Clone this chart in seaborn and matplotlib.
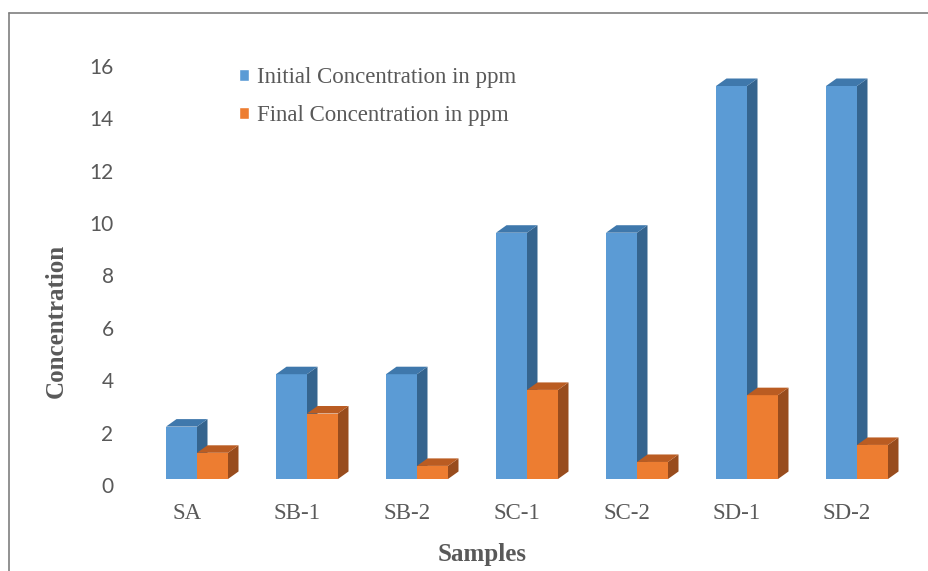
import matplotlib
matplotlib.use("Agg")
import matplotlib.pyplot as plt
from matplotlib.patches import Polygon
from matplotlib.lines import Line2D
from matplotlib.transforms import ScaledTranslation
import seaborn as sns
import pandas as pd

# ---- data ----
samples = ["SA", "SB-1", "SB-2", "SC-1", "SC-2", "SD-1", "SD-2"]
initial = [2.0, 4.0, 4.0, 9.4, 9.4, 15.0, 15.0]
final = [1.0, 2.5, 0.5, 3.4, 0.65, 3.2, 1.3]
series_names = ["Initial Concentration in ppm", "Final Concentration in ppm"]
y_ticks = [0, 2, 4, 6, 8, 10, 12, 14, 16]

front_colors = ["#5B9BD5", "#ED7D31"]
top_colors = ["#3F78AC", "#BA5C22"]
side_colors = ["#35648E", "#984C1D"]

df = pd.DataFrame({
    "Samples": samples * 2,
    "Series": [series_names[0]] * len(samples) + [series_names[1]] * len(samples),
    "Concentration": initial + final,
})

sns.set_theme(style="white")
fig = plt.figure(figsize=(9.29, 5.71), dpi=100)
W, H = 929, 571
ax_left, ax_right = 142, 912
base_y, px_per_unit, ymax = 479, 26.2, 16.5
ax = fig.add_axes([ax_left / W, (H - base_y) / H, (ax_right - ax_left) / W,
                   ymax * px_per_unit / H])

sns.barplot(data=df, x="Samples", y="Concentration", hue="Series",
            order=samples, hue_order=series_names, palette=front_colors,
            saturation=1, width=62 / 110, gap=0, ax=ax, legend=True)

ax.set_xlim(-0.5, 6.5)
ax.set_ylim(0, ymax)

# 3D-like faces derived from each bar
dx = 10.5 / 110
dy = 7.5 / px_per_unit
for i, cont in enumerate(ax.containers):
    for bar in cont:
        bar.set_zorder(2 + i)
        bar.set_edgecolor("none")
        x0 = bar.get_x()
        x1 = x0 + bar.get_width()
        h = bar.get_height()
        side = Polygon([(x1, 0), (x1, h), (x1 + dx, h + dy), (x1 + dx, dy)],
                       closed=True, facecolor=side_colors[i], edgecolor="none",
                       zorder=2.5 + i, clip_on=False)
        top = Polygon([(x0, h), (x1, h), (x1 + dx, h + dy), (x0 + dx, h + dy)],
                      closed=True, facecolor=top_colors[i], edgecolor="none",
                      zorder=2.5 + i, clip_on=False)
        ax.add_patch(side)
        ax.add_patch(top)

for s in ax.spines.values():
    s.set_visible(False)
ax.grid(False)

# ticks
ax.set_yticks(y_ticks)
ax.set_yticklabels([str(t) for t in y_ticks], fontfamily="Lato", fontsize=15,
                   color="#595959")
ax.set_xticks(range(len(samples)))
ax.set_xticklabels(samples, fontfamily="Liberation Serif", fontsize=16.5,
                   color="#595959")
ax.tick_params(axis="both", length=0)
ax.tick_params(axis="y", pad=20.5)
ax.tick_params(axis="x", pad=17.5)
for lab in ax.get_yticklabels():
    lab.set_transform(lab.get_transform() + ScaledTranslation(0, -0.06, fig.dpi_scale_trans))
for lab in ax.get_xticklabels():
    lab.set_transform(lab.get_transform() + ScaledTranslation(-0.10, 0, fig.dpi_scale_trans))

# axis labels
ax.set_xlabel("Samples", fontfamily="Liberation Serif", fontsize=18,
              fontweight="bold", color="#595959")
ax.set_ylabel("Concentration", fontfamily="Liberation Serif", fontsize=18,
              fontweight="bold", color="#595959")
ax.xaxis.set_label_coords((482 - ax_left) / (ax_right - ax_left),
                          (base_y - 555) / (ymax * px_per_unit))
ax.xaxis.label.set_va("center")
ax.yaxis.set_label_coords((56 - ax_left) / (ax_right - ax_left),
                          (base_y - 321) / (ymax * px_per_unit))
ax.yaxis.label.set_va("center")

# legend
handles, labels = ax.get_legend_handles_labels()
ax.legend(handles, labels, loc="upper left", frameon=False,
          bbox_to_anchor=(239 / W, 1 - 67 / H), bbox_transform=fig.transFigure,
          prop={"family": "Liberation Serif", "size": 16.5},
          labelcolor="#595959", handlelength=0.45, handleheight=0.45,
          handletextpad=0.35, labelspacing=0.75, borderpad=0, borderaxespad=0)

# outer frame (top and left edges)
fig.add_artist(Line2D([9 / W, 9 / W], [0, 1 - 13 / H], transform=fig.transFigure,
                      color="#7f7f7f", lw=1.2))
fig.add_artist(Line2D([9 / W, 1], [1 - 13 / H, 1 - 13 / H], transform=fig.transFigure,
                      color="#7f7f7f", lw=1.2))

fig.savefig("out.png", dpi=100)
